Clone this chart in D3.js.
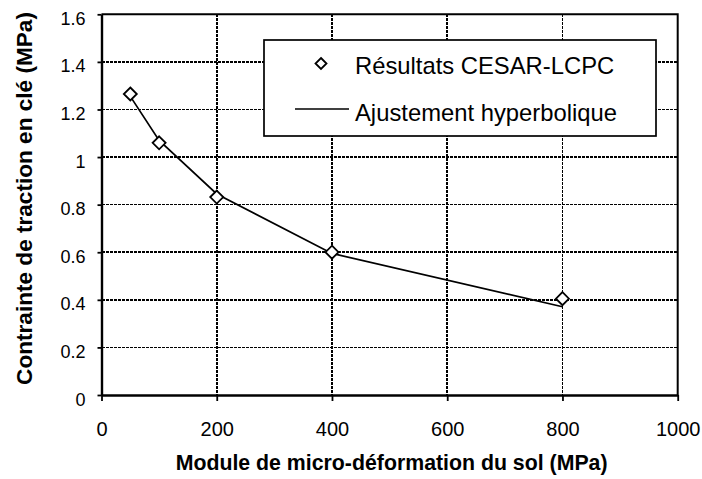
<!DOCTYPE html>
<html>
<head>
<meta charset="utf-8">
<script src="https://cdn.jsdelivr.net/npm/d3@7"></script>
<style>
  html, body { margin: 0; padding: 0; background: #fff; }
  svg { display: block; font-family: "Liberation Sans", Arial, sans-serif; }
</style>
</head>
<body>
<svg id="chart" width="702" height="479"></svg>
<script>
// Tensile stress at the crown vs. soil micro-deformation modulus
const modulus = [50, 100, 200, 400, 800];              // MPa
const cesarStress = [1.265, 1.06, 0.832, 0.60, 0.405];  // MPa, CESAR-LCPC results
const fitStress = [1.255, 1.07, 0.845, 0.595, 0.371];   // MPa, hyperbolic fit
const xTicks = [0, 200, 400, 600, 800, 1000];
const yTicks = [0, 0.2, 0.4, 0.6, 0.8, 1, 1.2, 1.4, 1.6];
const legendLabels = ["Résultats CESAR-LCPC", "Ajustement hyperbolique"];
const xTitle = "Module de micro-déformation du sol (MPa)";
const yTitle = "Contrainte de traction en clé (MPa)";

const svg = d3.select("#chart");
const plot = { left: 101.5, right: 677.7, top: 14.3, bottom: 395 };

const x = d3.scaleLinear().domain([0, 1000]).range([plot.left, plot.right]);
const y = d3.scaleLinear().domain([0, 1.6]).range([plot.bottom, plot.top]);

// dashed grid
svg.append("g").attr("shape-rendering", "crispEdges").selectAll("line")
  .data(yTicks.filter(v => v > 0 && v < 1.6))
  .join("line")
  .attr("x1", plot.left).attr("x2", plot.right)
  .attr("y1", d => y(d)).attr("y2", d => y(d))
  .attr("stroke", "#000").attr("stroke-width", 1.6)
  .attr("stroke-dasharray", "3,1");
svg.append("g").attr("shape-rendering", "crispEdges").selectAll("line")
  .data(xTicks.filter(v => v > 0 && v < 1000))
  .join("line")
  .attr("y1", plot.top).attr("y2", plot.bottom)
  .attr("x1", d => x(d)).attr("x2", d => x(d))
  .attr("stroke", "#000").attr("stroke-width", 1.6)
  .attr("stroke-dasharray", "3,1");

// plot frame (top and right)
svg.append("path")
  .attr("d", `M${plot.left},${plot.top}H${plot.right}V${plot.bottom}`)
  .attr("fill", "none").attr("stroke", "#000").attr("stroke-width", 2);

// axes
const xAxis = d3.axisBottom(x).tickValues(xTicks).tickSize(6).tickSizeOuter(0)
  .tickFormat(d3.format("d"));
const gx = svg.append("g").attr("transform", `translate(0,${plot.bottom})`).call(xAxis);
gx.select(".domain").attr("stroke-width", 2.4);
gx.selectAll(".tick line").attr("stroke-width", 1.8);
gx.selectAll(".tick text").attr("font-size", 20).attr("fill", "#000")
  .attr("font-family", "Liberation Sans, Arial, sans-serif")
  .attr("dy", 0).attr("y", 41);

const yAxis = d3.axisLeft(y).tickValues(yTicks).tickSize(4).tickSizeOuter(0)
  .tickFormat(d => String(+d.toFixed(1)));
const gy = svg.append("g").attr("transform", `translate(${plot.left},0)`).call(yAxis);
gy.select(".domain").attr("stroke-width", 2.4);
gy.selectAll(".tick line").attr("stroke-width", 1.8);
gy.selectAll(".tick text").attr("font-size", 18).attr("fill", "#000")
  .attr("font-family", "Liberation Sans, Arial, sans-serif")
  .attr("dy", 10).attr("x", -16);

// hyperbolic fit line
const fitPts = modulus.map((m, i) => [m, fitStress[i]]);
svg.append("path")
  .datum(fitPts)
  .attr("fill", "none").attr("stroke", "#000").attr("stroke-width", 1.7)
  .attr("d", d3.line().x(d => x(d[0])).y(d => y(d[1])));

// diamond markers
const diamond = s => `M0,${-s}L${s},0L0,${s}L${-s},0Z`;
svg.append("g").selectAll("path")
  .data(modulus.map((m, i) => [m, cesarStress[i]]))
  .join("path")
  .attr("transform", d => `translate(${x(d[0])},${y(d[1])})`)
  .attr("d", diamond(6.5))
  .attr("fill", "#fff").attr("stroke", "#000").attr("stroke-width", 1.8);

// legend
const lg = svg.append("g");
lg.append("rect").attr("x", 264).attr("y", 40).attr("width", 392).attr("height", 96)
  .attr("fill", "#fff").attr("stroke", "#000").attr("stroke-width", 1.7);
lg.append("path").attr("transform", "translate(321,63.5)").attr("d", diamond(5.5))
  .attr("fill", "#fff").attr("stroke", "#000").attr("stroke-width", 1.8);
lg.append("line").attr("x1", 295).attr("x2", 349).attr("y1", 109).attr("y2", 109)
  .attr("stroke", "#000").attr("stroke-width", 1.7);
lg.selectAll("text").data(legendLabels).join("text")
  .attr("x", 355).attr("y", (d, i) => i === 0 ? 74 : 120.5)
  .attr("font-size", 23.8).attr("fill", "#000").text(d => d);

// axis titles
svg.append("text").attr("x", (plot.left + plot.right) / 2 + 2).attr("y", 470)
  .attr("text-anchor", "middle").attr("font-size", 21.3).attr("font-weight", "bold")
  .text(xTitle);
svg.append("text").attr("transform", "translate(31.5,198.5) rotate(-90)")
  .attr("text-anchor", "middle").attr("font-size", 22.6).attr("font-weight", "bold")
  .text(yTitle);
</script>
</body>
</html>
